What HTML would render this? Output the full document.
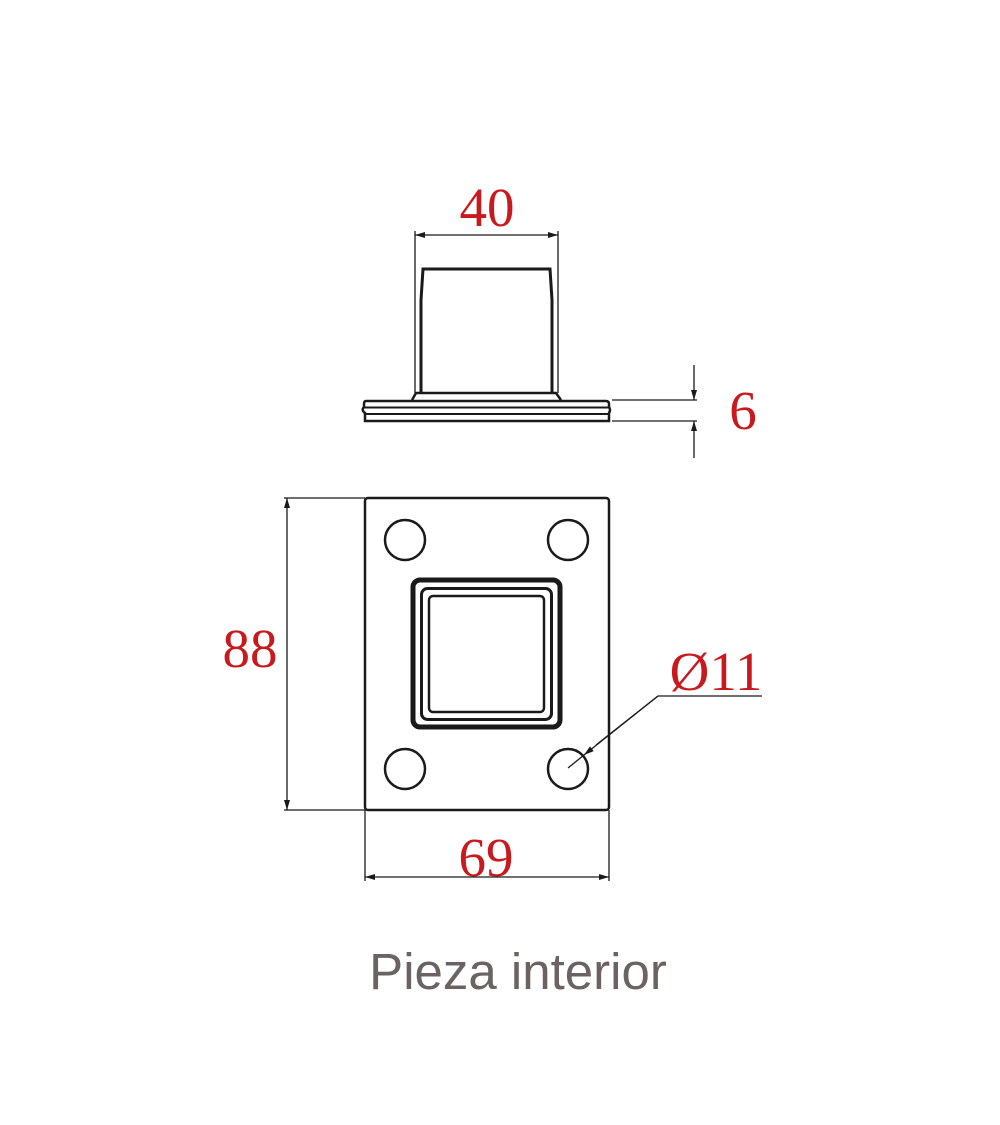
<!DOCTYPE html>
<html><head><meta charset="utf-8"><style>
html,body{margin:0;padding:0;background:#fff;}
svg{display:block;}
.r{font-family:"Liberation Serif",serif;fill:#c8191e;font-size:55px;}
</style></head><body>
<svg width="1000" height="1125" viewBox="0 0 1000 1125" xmlns="http://www.w3.org/2000/svg">
<defs>
<marker id="a" viewBox="0 0 10 6" refX="10" refY="3" markerWidth="14" markerHeight="6" markerUnits="userSpaceOnUse" orient="auto"><path d="M0,0 L10,3 L0,6 Z" fill="#1a1a1a"/></marker>
</defs>
<g stroke="#1a1a1a" fill="none">
<path d="M421,392 L421,300 L423,269 L550,269 L552,300 L552,392" stroke-width="3"/>
<path d="M412,400 L416,393 L556,393 L561,400" stroke-width="2.5"/>
<path d="M366,401 L606,401 Q609,401 609,404 L609,407 Q611,410 609,413 L609,421 L365,421 L365,413 Q361,410 364,407 L364,404 Q364,401 366,401 Z" stroke-width="2.5"/>
<line x1="364" y1="407.5" x2="609" y2="407.5" stroke-width="2"/>
<line x1="364" y1="414" x2="609" y2="414" stroke-width="2"/>
<line x1="415" y1="231" x2="415" y2="393" stroke-width="1.3"/>
<line x1="558" y1="231" x2="558" y2="393" stroke-width="1.3"/>
<line x1="430" y1="235" x2="415" y2="235" stroke-width="1.3" marker-end="url(#a)"/>
<line x1="540" y1="235" x2="558" y2="235" stroke-width="1.3" marker-end="url(#a)"/>
<line x1="430" y1="235" x2="540" y2="235" stroke-width="1.3"/>
<line x1="612" y1="400" x2="697" y2="400" stroke-width="1.3"/>
<line x1="612" y1="421" x2="697" y2="421" stroke-width="1.3"/>
<line x1="694" y1="365" x2="694" y2="400" stroke-width="1.3" marker-end="url(#a)"/>
<line x1="694" y1="458" x2="694" y2="421" stroke-width="1.3" marker-end="url(#a)"/>
<rect x="365" y="498" width="244" height="312" rx="3" stroke-width="2.5"/>
<circle cx="405" cy="540" r="20" stroke-width="2.5"/>
<circle cx="568" cy="540" r="20" stroke-width="2.5"/>
<circle cx="405" cy="769" r="20" stroke-width="2.5"/>
<circle cx="568" cy="769" r="20" stroke-width="2.5"/>
<rect x="413" y="580" width="147" height="147" rx="7" stroke-width="5"/>
<rect x="421.5" y="588.5" width="130" height="131" rx="6" stroke-width="3"/>
<rect x="429" y="596" width="115" height="116" rx="4" stroke-width="2.5"/>
<line x1="284" y1="498" x2="365" y2="498" stroke-width="1.3"/>
<line x1="284" y1="810" x2="365" y2="810" stroke-width="1.3"/>
<line x1="287" y1="650" x2="287" y2="498" stroke-width="1.3" marker-end="url(#a)"/>
<line x1="287" y1="650" x2="287" y2="810" stroke-width="1.3" marker-end="url(#a)"/>
<line x1="365" y1="810" x2="365" y2="881" stroke-width="1.3"/>
<line x1="609" y1="810" x2="609" y2="881" stroke-width="1.3"/>
<line x1="487" y1="877" x2="365" y2="877" stroke-width="1.3" marker-end="url(#a)"/>
<line x1="487" y1="877" x2="609" y2="877" stroke-width="1.3" marker-end="url(#a)"/>
<polyline points="762,696 658,696 596,745" stroke-width="1.3"/>
<line x1="658" y1="696" x2="584" y2="755" stroke-width="1.3" marker-end="url(#a)"/>
<line x1="584" y1="755" x2="568" y2="768" stroke-width="1.3"/>
</g>
<text class="r" x="487" y="226" text-anchor="middle">40</text>
<text class="r" x="743" y="429" text-anchor="middle">6</text>
<text class="r" x="250" y="667" text-anchor="middle">88</text>
<text class="r" x="486" y="876" text-anchor="middle">69</text>
<text class="r" x="716" y="690" text-anchor="middle">Ø11</text>
<text x="518" y="989" text-anchor="middle" font-family="Liberation Sans, sans-serif" font-size="51" fill="#6b6361">Pieza interior</text>
</svg>
</body></html>
